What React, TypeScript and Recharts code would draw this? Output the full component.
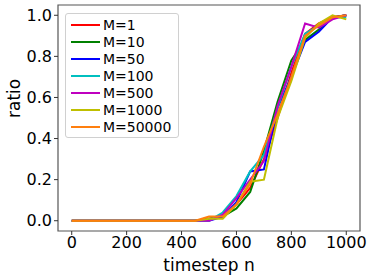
import React from "react";
import {
  LineChart,
  Line,
  XAxis,
  YAxis,
  ReferenceArea,
} from "recharts";

const steps = [0, 50, 100, 150, 200, 250, 300, 350, 400, 450, 500, 550, 600, 650, 700, 750, 800, 850, 900, 950, 1000];
const flat = [0, 0, 0, 0, 0, 0, 0, 0, 0, 0];

const m1 = [...flat, 0.01, 0.02, 0.08, 0.16, 0.3, 0.5, 0.72, 0.91, 0.96, 0.99, 1.0];
const m10 = [...flat, 0.01, 0.02, 0.06, 0.14, 0.34, 0.58, 0.78, 0.88, 0.93, 0.99, 1.0];
const m50 = [...flat, 0.0, 0.02, 0.09, 0.24, 0.25, 0.55, 0.7, 0.87, 0.92, 0.99, 1.0];
const m100 = [...flat, 0.0, 0.04, 0.12, 0.24, 0.32, 0.55, 0.75, 0.91, 0.95, 0.99, 0.99];
const m500 = [...flat, 0.0, 0.03, 0.11, 0.2, 0.29, 0.56, 0.75, 0.96, 0.94, 0.98, 1.0];
const m1000 = [...flat, 0.01, 0.01, 0.08, 0.19, 0.2, 0.5, 0.68, 0.89, 0.96, 1.0, 0.98];
const m50000 = [...flat, 0.02, 0.02, 0.08, 0.18, 0.36, 0.52, 0.7, 0.9, 0.95, 0.99, 1.0];

const seriesNames = ["M=1", "M=10", "M=50", "M=100", "M=500", "M=1000", "M=50000"];
const seriesValues = [m1, m10, m50, m100, m500, m1000, m50000];
const colors = ["#ff0000", "#008000", "#0000ff", "#00bfbf", "#bf00bf", "#bfbf00", "#ff7f0e"];

const xTicks = [0, 200, 400, 600, 800, 1000];
const yTicks = [0, 0.2, 0.4, 0.6, 0.8, 1.0];

const data = steps.map((n, i) => {
  const row: Record<string, number> = { n };
  seriesNames.forEach((name, k) => {
    row[name] = seriesValues[k][i];
  });
  return row;
});

const font = "DejaVu Sans, sans-serif";

function LegendBox() {
  return (
    <div
      style={{
        position: "absolute",
        left: 65,
        top: 13,
        width: 114,
        height: 125,
        border: "1px solid #d0d0d0",
        borderRadius: 3,
        background: "rgba(255,255,255,0.8)",
        fontFamily: font,
        fontSize: 14,
        color: "#000",
        paddingTop: 2,
        boxSizing: "border-box",
      }}
    >
      {seriesNames.map((name, k) => (
        <div key={name} style={{ display: "flex", alignItems: "center", height: 17 }}>
          <div style={{ width: 29, height: 2, background: colors[k], marginLeft: 5, marginRight: 3 }} />
          <span>{name}</span>
        </div>
      ))}
    </div>
  );
}

export default function App() {
  return (
    <div style={{ position: "absolute", left: 0, top: 0, width: 374, height: 279, background: "#fff" }}>
      <LineChart
        width={374}
        height={279}
        data={data}
        margin={{ top: 5, right: 14, bottom: 0, left: 0 }}
      >
        <XAxis
          dataKey="n"
          type="number"
          domain={[-50, 1050]}
          ticks={xTicks}
          height={48}
          axisLine={false}
          tickLine={{ stroke: "#333" }}
          tickSize={4}
          tick={{ fill: "#000", fontSize: 16, fontFamily: font }}
          label={{ value: "timestep n", position: "insideBottom", offset: 8, fill: "#000", fontSize: 17, fontFamily: font }}
        />
        <YAxis
          type="number"
          domain={[-0.05, 1.05]}
          ticks={yTicks}
          width={58}
          axisLine={false}
          tickLine={{ stroke: "#333" }}
          tickSize={4}
          tickFormatter={(v: number) => v.toFixed(1)}
          tick={{ fill: "#000", fontSize: 16, fontFamily: font }}
          label={{ value: "ratio", angle: -90, position: "insideLeft", offset: 14, fill: "#000", fontSize: 17, fontFamily: font }}
        />
        <ReferenceArea x1={-50} x2={1050} y1={-0.05} y2={1.05} fill="none" stroke="#555" strokeWidth={1.2} />
        {seriesNames.map((name, k) => (
          <Line
            key={name}
            type="linear"
            dataKey={name}
            stroke={colors[k]}
            strokeWidth={2}
            dot={false}
            isAnimationActive={false}
          />
        ))}
      </LineChart>
      <LegendBox />
    </div>
  );
}
